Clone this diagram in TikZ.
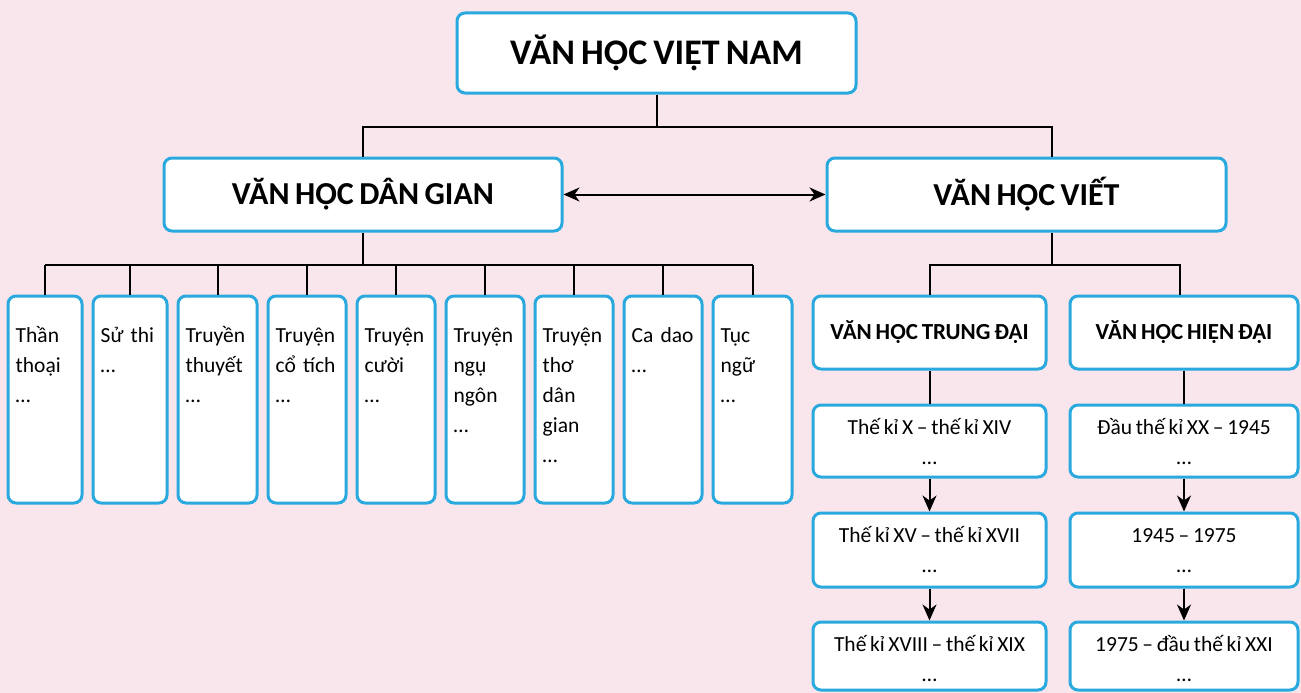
\documentclass[tikz,border=0pt]{standalone}
\usepackage{fontspec}
\setmainfont{Carlito}[WordSpace=0.75]
\usetikzlibrary{arrows.meta}
\definecolor{bgpink}{HTML}{F9E6ED}
\definecolor{boxblue}{HTML}{2AA9DE}
\begin{document}
\begin{tikzpicture}[x=1pt,y=-1pt,
  box/.style={draw=boxblue, line width=3pt, rounded corners=8pt, fill=white, inner sep=0pt},
  conn/.style={line width=2pt, draw=black},
  arr/.style={conn, -{Stealth[length=16pt,width=14pt,inset=5pt]}},
  darr/.style={conn, {Stealth[length=16pt,width=14pt,inset=5pt]}-{Stealth[length=16pt,width=14pt,inset=5pt]}},
  bigtitle/.style={font=\fontsize{36}{40}\selectfont\bfseries, inner sep=0pt},
  midtitle/.style={font=\fontsize{32}{36}\selectfont\bfseries, inner sep=0pt},
  smalltitle/.style={font=\fontsize{23}{28}\selectfont\bfseries, inner sep=0pt},
  body/.style={font=\fontsize{21.5}{30}\selectfont, inner sep=0pt},
]
\fill[bgpink] (0,0) rectangle (1301,693);
\useasboundingbox (0,0) rectangle (1301,693);

% top
\node[box, minimum width=399pt, minimum height=80pt] (top) at (656.5,53) {};
\node[bigtitle] (toptxt) at (top.center) {VĂN HỌC VIỆT NAM};

\node[box, minimum width=398pt, minimum height=73pt] (dg) at (363,194.5) {};
\node[midtitle] (dgtxt) at (dg.center) {VĂN HỌC DÂN GIAN};

\node[box, minimum width=399pt, minimum height=73pt] (viet) at (1026.5,194.5) {};
\node[midtitle] (viettxt) at (viet.center) {VĂN HỌC VIẾT};

\draw[darr] (dg.east) -- (viet.west);

\coordinate (vn) at ([xshift=25.5pt]viet.north);
\coordinate (vs) at ([xshift=25.5pt]viet.south);
\draw[conn] (top.south) -- (top.south |- 0,127);
\draw[conn] (dg.north) -- (dg.north |- 0,127) -| (vn);

% small boxes
\foreach \n/\cx/\w/\t in {
  1/45/74/{Thần\\thoại\\…},
  2/130/74/{Sử thi\\…},
  3/217.5/79/{Truyền\\thuyết\\…},
  4/307/78/{Truyện\\cổ tích\\…},
  5/396/78/{Truyện\\cười\\…},
  6/485/78/{Truyện\\ngụ\\ngôn\\…},
  7/574/78/{Truyện\\thơ\\dân\\gian\\…},
  8/663/78/{Ca dao\\…},
  9/752.5/79/{Tục\\ngữ\\…}} {
  \node[box, minimum width=\w pt, minimum height=207pt] (s\n) at (\cx,399.5) {};
  \node[body, text width=66pt, align=left, anchor=base west] (st\n) at ([xshift=9pt,yshift=-48pt]s\n.north west) {\t};
  \draw[conn] (s\n.north) -- (s\n.north |- 0,265);
}
\draw[conn] (dg.south) -- (dg.south |- 0,265);
\draw[conn] (s1.north |- 0,265) -- (s9.north |- 0,265);

% right branch
\node[box, minimum width=233pt, minimum height=73pt] (td) at (929.5,332.5) {};
\node[smalltitle] (tdtxt) at (td.center) {VĂN HỌC TRUNG ĐẠI};
\node[box, minimum width=228pt, minimum height=73pt] (hd) at (1184,332.5) {};
\node[smalltitle] (hdtxt) at (hd.center) {VĂN HỌC HIỆN ĐẠI};

\coordinate (hn) at ([xshift=-4pt]hd.north);
\draw[conn] (vs) -- (vs |- 0,265);
\draw[conn] (td.north) -- (td.north |- 0,265) -| (hn);

\node[box, minimum width=233pt, minimum height=72pt] (p1) at (929.5,441) {};
\node[box, minimum width=233pt, minimum height=74pt] (p2) at (929.5,550) {};
\node[box, minimum width=233pt, minimum height=68pt] (p3) at (929.5,656) {};
\node[box, minimum width=228pt, minimum height=72pt] (q1) at (1184,441) {};
\node[box, minimum width=228pt, minimum height=74pt] (q2) at (1184,550) {};
\node[box, minimum width=228pt, minimum height=68pt] (q3) at (1184,656) {};

\foreach \b/\t in {p1/{Thế kỉ X – thế kỉ XIV}, p2/{Thế kỉ XV – thế kỉ XVII}, p3/{Thế kỉ XVIII – thế kỉ XIX},
                   q1/{Đầu thế kỉ XX – 1945}, q2/{1945 – 1975}, q3/{1975 – đầu thế kỉ XXI}} {
  \node[body, anchor=base] (\b a) at ([yshift=-31pt]\b.north) {\t};
  \node[body, anchor=base] (\b b) at ([yshift=-61pt]\b.north) {…};
}

\draw[conn] (td.south) -- (p1.north);
\draw[arr] (p1.south) -- (p2.north);
\draw[arr] (p2.south) -- (p3.north);
\draw[conn] (hd.south) -- (q1.north);
\draw[arr] (q1.south) -- (q2.north);
\draw[arr] (q2.south) -- (q3.north);
\end{tikzpicture}
\end{document}
